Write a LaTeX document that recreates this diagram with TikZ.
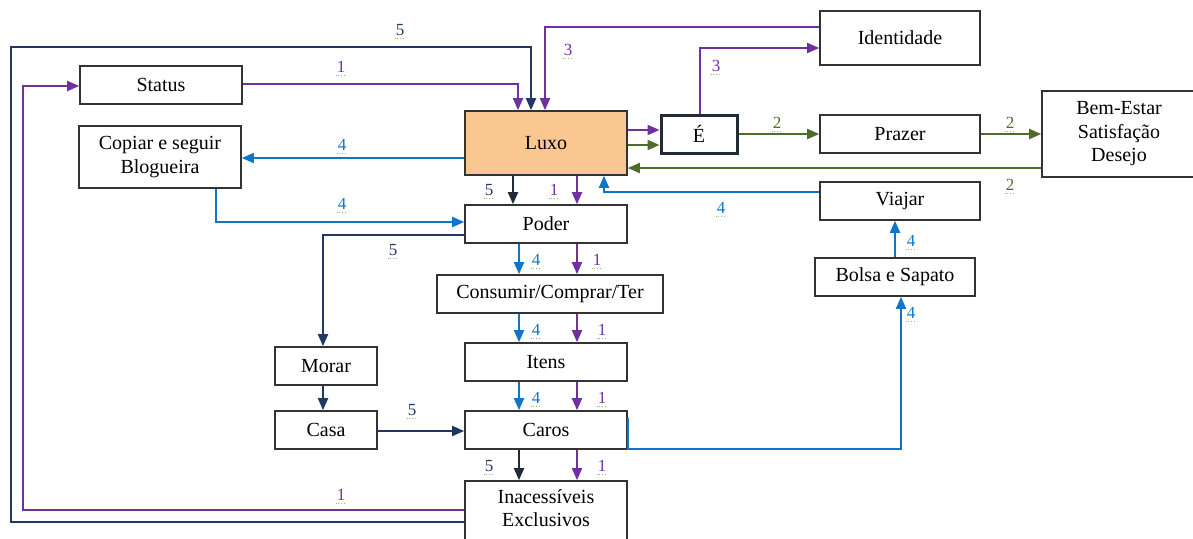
\documentclass[tikz,border=0pt]{standalone}
\usepackage{fontspec}
\setmainfont{Liberation Serif}
\usetikzlibrary{arrows.meta,calc}
\definecolor{cpurple}{HTML}{7030A0}
\definecolor{cnavy}{HTML}{1F3864}
\definecolor{cslate}{HTML}{222A35}
\definecolor{cblue}{HTML}{0F75C8}
\definecolor{cgreen}{HTML}{4E6B2A}
\definecolor{cbox}{HTML}{333333}
\definecolor{cluxo}{HTML}{FAC791}
\definecolor{cwave}{HTML}{8CC36A}
\tikzset{
  box/.style={draw=cbox, line width=1.6pt, fill=white, inner sep=0pt, align=center,
    font=\fontsize{20}{23.5}\selectfont},
  conn/.style={line width=1.9pt, -{Triangle[length=12pt,width=10pt]}},
  lab/.style={font=\fontsize{17}{17}\selectfont, inner sep=1pt,
    append after command={([yshift=-1.5pt]\tikzlastnode.south west) edge[draw=cwave, dotted, line width=0.9pt] ([yshift=-1.5pt]\tikzlastnode.south east)}},
}
\begin{document}
\begin{tikzpicture}[x=1pt,y=-1pt]
\useasboundingbox (0,0) rectangle (1193,538);
% nodes
\node[box, minimum width=162, minimum height=38] (status) at (161,85) {Status};
\node[box, minimum width=162, minimum height=62] (copiar) at (160,157) {Copiar e seguir\\Blogueira};
\node[box, fill=cluxo, minimum width=162, minimum height=64] (luxo) at (546,143) {Luxo};
\node[box, draw=cslate, line width=3pt, minimum width=76, minimum height=38] (e) at (699,134) {É};
\node[box, minimum width=160, minimum height=54] (ident) at (900,38) {Identidade};
\node[box, minimum width=160, minimum height=38] (prazer) at (900,134) {Prazer};
\node[box, minimum width=154, minimum height=86] (bem) at (1119,134) {Bem-Estar\\Satisfação\\Desejo};
\node[box, minimum width=160, minimum height=38] (viajar) at (900,201) {Viajar};
\node[box, minimum width=160, minimum height=38] (bolsa) at (895,277) {Bolsa e Sapato};
\node[box, minimum width=162, minimum height=38] (poder) at (546,224) {Poder};
\node[box, minimum width=226, minimum height=38] (consumir) at (550,294) {Consumir/Comprar/Ter};
\node[box, minimum width=162, minimum height=38] (itens) at (546,362) {Itens};
\node[box, minimum width=102, minimum height=38] (morar) at (326,366) {Morar};
\node[box, minimum width=102, minimum height=38] (casa) at (326,430) {Casa};
\node[box, minimum width=162, minimum height=38] (caros) at (546,430) {Caros};
\node[box, minimum width=162, minimum height=62, text depth=8pt] (inac) at (546,512) {Inacessíveis\\Exclusivos};

% long loops
\draw[conn, cnavy] (inac.west|-0,522) -| (11,47) -| (luxo.north-|531,0);
\node[lab, text=cnavy] (l5a) at (400,30) {5};
\draw[conn, cpurple] (inac.west|-0,510) -| (23,86) -- (status.west|-0,86);
\node[lab, text=cpurple] (l1a) at (341,495) {1};
\draw[conn, cpurple] (status.east|-0,84) -| (luxo.north-|518,0);
\node[lab, text=cpurple] (l1b) at (341,67) {1};
\draw[conn, cpurple] (ident.west|-0,27) -| (luxo.north-|545,0);
\node[lab, text=cpurple] (l3a) at (568,50) {3};
\draw[conn, cpurple] (e.north-|700,0) |- (ident.west|-0,48);
\node[lab, text=cpurple] (l3b) at (716,66) {3};

% Luxo -> É
\draw[conn, cpurple] (luxo.east|-0,130) -- (e.west|-0,130);
\draw[conn, cgreen] (luxo.east|-0,145) -- (e.west|-0,145);
\draw[conn, cgreen] (e.east|-0,134) -- (prazer.west|-0,134);
\node[lab, text=cgreen] (l2a) at (777,123) {2};
\draw[conn, cgreen] (prazer.east|-0,134) -- (bem.west|-0,134);
\node[lab, text=cgreen] (l2b) at (1010,123) {2};
\draw[conn, cgreen] (bem.west|-0,168) -- (luxo.east|-0,168);
\node[lab, text=cgreen] (l2c) at (1010,185) {2};

% blue
\draw[conn, cblue] (viajar.west|-0,192) -| (luxo.south-|604,0);
\node[lab, text=cblue] (l4a) at (721,208) {4};
\draw[conn, cblue] (luxo.west|-0,158) -- (copiar.east|-0,158);
\node[lab, text=cblue] (l4b) at (342,145) {4};
\draw[conn, cblue] (copiar.south-|216,0) |- (poder.west|-0,222);
\node[lab, text=cblue] (l4c) at (342,204) {4};

% Luxo -> Poder
\draw[conn, cslate] (luxo.south-|513,0) -- (poder.north-|513,0);
\node[lab, text=cnavy] (l5b) at (489,190) {5};
\draw[conn, cpurple] (luxo.south-|577,0) -- (poder.north-|577,0);
\node[lab, text=cpurple] (l1c) at (554,190) {1};

% Poder -> Morar
\draw[conn, cnavy] (poder.west|-0,235) -| (morar.north-|323,0);
\node[lab, text=cnavy] (l5c) at (393,250) {5};

% chain
\draw[conn, cblue] (poder.south-|519,0) -- (consumir.north-|519,0);
\node[lab, text=cblue] (l4d) at (536,260) {4};
\draw[conn, cpurple] (poder.south-|577,0) -- (consumir.north-|577,0);
\node[lab, text=cpurple] (l1d) at (597,260) {1};
\draw[conn, cblue] (consumir.south-|519,0) -- (itens.north-|519,0);
\node[lab, text=cblue] (l4e) at (536,330) {4};
\draw[conn, cpurple] (consumir.south-|577,0) -- (itens.north-|577,0);
\node[lab, text=cpurple] (l1e) at (602,330) {1};
\draw[conn, cblue] (itens.south-|519,0) -- (caros.north-|519,0);
\node[lab, text=cblue] (l4f) at (536,398) {4};
\draw[conn, cpurple] (itens.south-|577,0) -- (caros.north-|577,0);
\node[lab, text=cpurple] (l1f) at (602,398) {1};

% Morar -> Casa -> Caros
\draw[conn, cnavy] (morar.south-|323,0) -- (casa.north-|323,0);
\draw[conn, cnavy] (casa.east|-0,431) -- (caros.west|-0,431);
\node[lab, text=cnavy] (l5d) at (412,410) {5};

% Caros -> Bolsa -> Viajar
\draw[conn, cblue] (caros.east|-0,418) -- (caros.east|-0,449) -| (bolsa.south-|901,0);
\node[lab, text=cblue] (l4g) at (911,313) {4};
\draw[conn, cblue] (bolsa.north-|895,0) -- (viajar.south-|895,0);
\node[lab, text=cblue] (l4h) at (911,241) {4};

% Caros -> Inacessiveis
\draw[conn, cslate] (caros.south-|519,0) -- (inac.north-|519,0);
\node[lab, text=cnavy] (l5e) at (489,466) {5};
\draw[conn, cpurple] (caros.south-|577,0) -- (inac.north-|577,0);
\node[lab, text=cpurple] (l1g) at (602,466) {1};
\end{tikzpicture}
\end{document}
